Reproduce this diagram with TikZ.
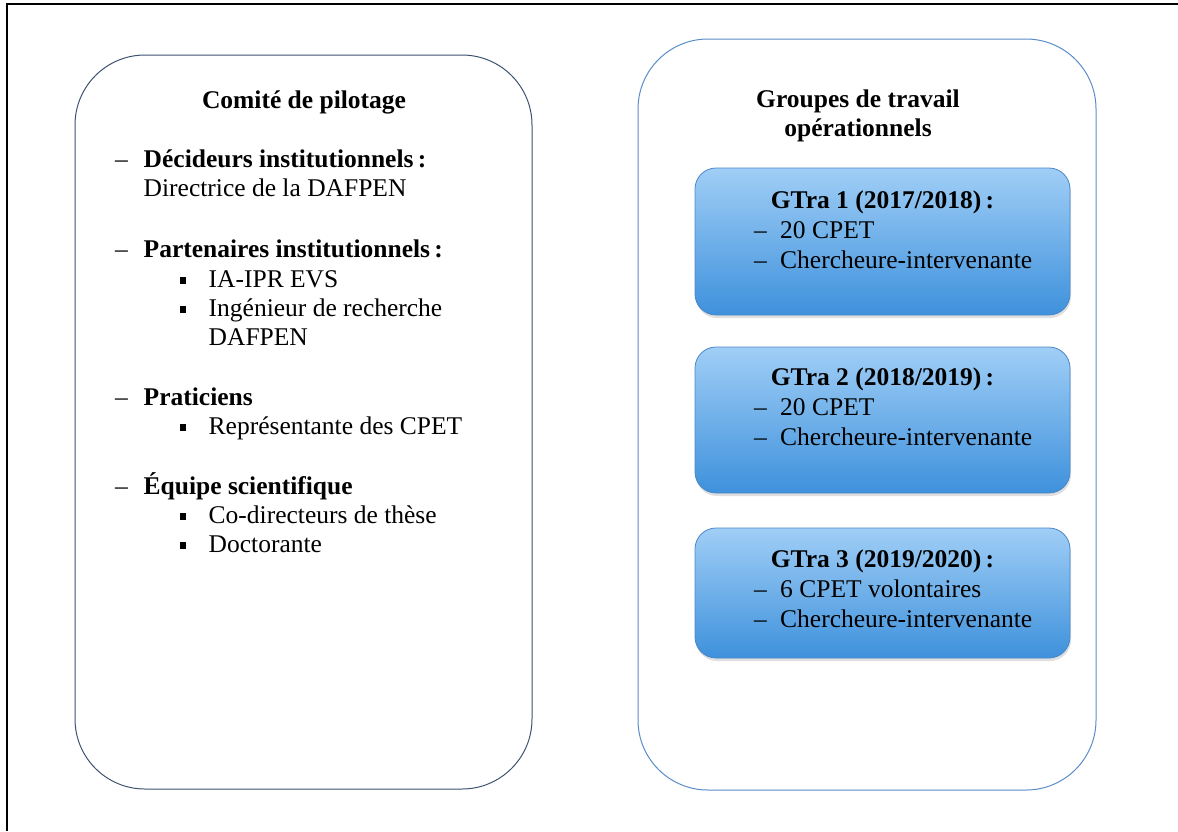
\documentclass[tikz,border=0pt]{standalone}
\usepackage{fontspec}
\setmainfont{Liberation Serif}
\usetikzlibrary{shadows}
\definecolor{leftline}{RGB}{60,82,112}
\definecolor{rightline}{RGB}{90,140,200}
\definecolor{gtop}{RGB}{160,206,246}
\definecolor{gbot}{RGB}{62,145,220}
\definecolor{gline}{RGB}{75,135,200}
\newcommand\bulsq{\makebox[28.5pt][l]{\rule[3pt]{5.5pt}{7pt}}}
\newcommand\ldash{\makebox[28.5pt][l]{–}}
\newcommand\rdash{\makebox[26pt][l]{–}}
\begin{document}
\begin{tikzpicture}[x=1pt,y=-1pt,
  txt/.style={anchor=base west, inner sep=0pt, font=\fontsize{25.5}{30}\selectfont},
  ttl/.style={anchor=base, inner sep=0pt, font=\fontsize{25.5}{30}\selectfont\bfseries},
  panel/.style={draw, line width=1pt, rectangle, rounded corners=70pt, inner sep=0pt},
  gbox/.style={draw=gline, line width=0.8pt, rectangle, rounded corners=21pt, inner sep=0pt,
    top color=gtop, bottom color=gbot, minimum width=375pt,
    drop shadow={opacity=0.25, shadow xshift=1pt, shadow yshift=-3pt}}]
\useasboundingbox (0,0) rectangle (1178,831);
\coordinate (fa) at (7,831);
\coordinate (fb) at (7,4);
\coordinate (fc) at (1178,4);
\draw[line width=2.5pt] (fa) -- (fb) -- (fc);
% panels
\node[panel, draw=leftline, minimum width=457pt, minimum height=734pt] (cp) at (303.5,422) {};
\node[panel, draw=rightline, minimum width=458pt, minimum height=751pt] (gt) at (867,414.5) {};
\node[gbox, minimum height=147pt] (g1) at (882.5,241.5) {};
\node[gbox, minimum height=146pt] (g2) at (882.5,420) {};
\node[gbox, minimum height=130pt] (g3) at (882.5,593) {};
% left text
\node[ttl] (t1) at (304,108) {Comité de pilotage};
\node[txt] (l1) at (115,167) {\ldash\textbf{Décideurs institutionnels\,:}};
\node[txt] (l2) at (143.5,196) {Directrice de la DAFPEN};
\node[txt] (l3) at (115,257) {\ldash\textbf{Partenaires institutionnels\,:}};
\node[txt] (l4) at (180,287) {\bulsq IA-IPR EVS};
\node[txt] (l5) at (180,316) {\bulsq Ingénieur de recherche};
\node[txt] (l6) at (208.5,345) {DAFPEN};
\node[txt] (l7) at (115,405) {\ldash\textbf{Praticiens}};
\node[txt] (l8) at (180,434) {\bulsq Représentante des CPET};
\node[txt] (l9) at (115,494) {\ldash\textbf{Équipe scientifique}};
\node[txt] (l10) at (180,523) {\bulsq Co-directeurs de thèse};
\node[txt] (l11) at (180,552) {\bulsq Doctorante};
% right text
\node[ttl] (t2) at (858,107) {Groupes de travail};
\node[ttl] (t3) at (858,136) {opérationnels};
\node[ttl] (a1) at (882.5,208) {GTra 1 (2017/2018)\,:};
\node[txt] (a2) at (754,238) {\rdash 20 CPET};
\node[txt] (a3) at (754,268) {\rdash Chercheure-intervenante};
\node[ttl] (b1) at (882.5,385) {GTra 2 (2018/2019)\,:};
\node[txt] (b2) at (754,415) {\rdash 20 CPET};
\node[txt] (b3) at (754,445) {\rdash Chercheure-intervenante};
\node[ttl] (c1) at (882.5,567) {GTra 3 (2019/2020)\,:};
\node[txt] (c2) at (754,597) {\rdash 6 CPET volontaires};
\node[txt] (c3) at (754,627) {\rdash Chercheure-intervenante};
\end{tikzpicture}
\end{document}
